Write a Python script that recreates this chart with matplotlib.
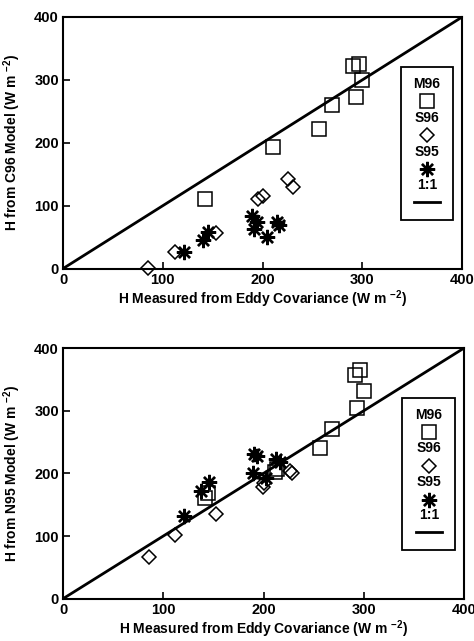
"""Two-panel scatter: modelled vs eddy-covariance sensible heat flux (out.png)."""

import matplotlib
matplotlib.use("Agg")
import matplotlib.pyplot as plt
from matplotlib.patches import Rectangle
from matplotlib.lines import Line2D

plt.rcParams.update({
    "font.family": ["Liberation Sans", "DejaVu Sans"],
    "font.weight": "bold",
    "mathtext.fontset": "custom",
    "mathtext.rm": "Liberation Sans:bold",
    "mathtext.bf": "Liberation Sans:bold",
    "mathtext.default": "bf",
})

# --- top panel: C96 model ---
c96_m96_x = [142.7, 210.9, 256.6, 270.0, 293.4, 300.0, 291.0, 296.7]
c96_m96_y = [110.2, 192.8, 222.5, 260.0, 272.8, 299.3, 321.6, 325.8]
c96_s96_x = [85.5, 112.3, 153.0, 195.0, 200.8, 225.2, 230.0]
c96_s96_y = [1.0, 27.0, 57.2, 110.0, 116.0, 142.0, 129.8]
c96_s95_x = [121.6, 140.7, 145.7, 189.8, 191.5, 194.0, 204.0, 214.0, 216.0]
c96_s95_y = [26.5, 45.0, 58.3, 83.0, 63.6, 74.0, 50.0, 74.0, 69.0]

# --- bottom panel: N95 model ---
n95_m96_x = [296.0, 291.0, 300.0, 292.8, 267.8, 256.0, 141.2, 145.0, 211.0, 213.0]
n95_m96_y = [365.6, 357.6, 331.0, 304.6, 271.0, 240.0, 160.0, 168.0, 202.4, 207.0]
n95_s96_x = [85.3, 111.2, 152.9, 199.5, 200.5, 226.0, 228.5]
n95_s96_y = [66.2, 101.7, 135.0, 177.5, 185.0, 203.0, 200.0]
n95_s95_x = [120.6, 137.9, 145.2, 190.5, 193.8, 189.5, 202.8, 212.8, 216.0]
n95_s95_y = [132.5, 172.0, 187.0, 230.5, 227.8, 200.0, 193.4, 222.5, 218.0]

one_to_one = [0, 400]
ticks = [0, 100, 200, 300, 400]

XLABEL = "H Measured from Eddy Covariance (W m $^{-2}$)"

SQ = dict(marker="s", ms=9.5, mfc="none", mec="black", mew=1.1, ls="none")
DI = dict(marker="D", ms=7.5, mfc="none", mec="black", mew=1.1, ls="none")
ST = dict(marker=(8, 2, 0), ms=11, mec="black", mew=1.7, ls="none")


def legend_box(ax):
    ax.add_patch(Rectangle((0.846, 0.195), 0.131, 0.607, transform=ax.transAxes,
                           fill=False, lw=1.3, ec="black", zorder=5))
    cx = 0.912
    for lab, y in [("M96", 0.733), ("S96", 0.600), ("S95", 0.465), ("1:1", 0.333)]:
        ax.text(cx, y, lab, transform=ax.transAxes, ha="center", va="center",
                fontsize=10, fontweight="bold")
    ax.plot([cx], [0.666], transform=ax.transAxes, clip_on=False, **SQ)
    ax.plot([cx], [0.530], transform=ax.transAxes, clip_on=False, **DI)
    ax.plot([cx], [0.395], transform=ax.transAxes, clip_on=False, **ST)
    ax.add_line(Line2D([cx - 0.032, cx + 0.032], [0.265, 0.265],
                       transform=ax.transAxes, color="black", lw=2))


def panel(ax, m_x, m_y, s6_x, s6_y, s5_x, s5_y, ylabel):
    ax.plot(one_to_one, one_to_one, color="black", lw=2)
    ax.plot(m_x, m_y, clip_on=False, **SQ)
    ax.plot(s6_x, s6_y, clip_on=False, **DI)
    ax.plot(s5_x, s5_y, clip_on=False, **ST)
    ax.set_xlim(0, 400)
    ax.set_ylim(0, 400)
    ax.set_xticks(ticks)
    ax.set_yticks(ticks)
    ax.tick_params(direction="in", length=5, width=1.2, labelsize=10.5, pad=3)
    for t in ax.get_xticklabels() + ax.get_yticklabels():
        t.set_fontweight("bold")
    for sp in ax.spines.values():
        sp.set_linewidth(1.5)
    ax.set_xlabel(XLABEL, fontsize=10, fontweight="bold", labelpad=1)
    ax.set_ylabel(ylabel, fontsize=10, fontweight="bold", labelpad=8)
    legend_box(ax)


fig = plt.figure(figsize=(4.74, 6.41), dpi=100)
ax1 = fig.add_axes([0.133, 0.581, 0.842, 0.3925])
ax2 = fig.add_axes([0.133, 0.066, 0.846, 0.391])

panel(ax1, c96_m96_x, c96_m96_y, c96_s96_x, c96_s96_y, c96_s95_x, c96_s95_y,
      "H from C96 Model (W m $^{-2}$)")
panel(ax2, n95_m96_x, n95_m96_y, n95_s96_x, n95_s96_y, n95_s95_x, n95_s95_y,
      "H from N95 Model (W m $^{-2}$)")

fig.savefig("out.png", dpi=100)
print("Saved out.png")
